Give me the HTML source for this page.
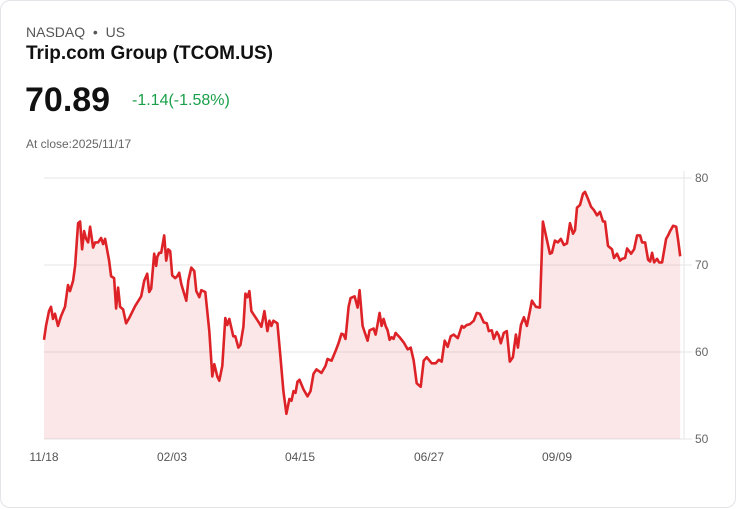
<!DOCTYPE html>
<html><head><meta charset="utf-8"><style>
body{margin:0;background:#fff;font-family:"Liberation Sans",sans-serif;}
.card{position:absolute;left:0;top:0;width:734px;height:506px;border:1px solid #e3e3e8;border-radius:10px;background:#fff;}
.t{position:absolute;white-space:nowrap;}
</style></head><body>
<div class="card">
<div class="t" style="left:25px;top:23px;font-size:14px;color:#555;">NASDAQ &nbsp;•&nbsp; US</div>
<div class="t" style="left:25px;top:42px;font-size:19px;font-weight:bold;color:#111;">Trip.com Group (TCOM.US)</div>
<div class="t" style="left:24px;top:80px;font-size:34px;font-weight:bold;color:#111;">70.89</div>
<div class="t" style="left:131px;top:91px;font-size:16px;color:#1a9f4a;font-weight:500;">-1.14(-1.58%)</div>
<div class="t" style="left:25px;top:136px;font-size:12px;color:#666;">At close:2025/11/17</div>
<svg id="chart" width="736" height="508" style="position:absolute;left:0;top:0"></svg>
</div>
<script>
const t=[0,2,5,7,9,11,14,17,21,24,26,29,31,34,36,38,40,42,44,46,49,51,54,57,59,61,65,67,70,72,74,76,79,82,85,91,97,100,103,105,107,110,112,113,115,117,120,122,124,126,128,131,133,135,137,142,144,147,150,152,155,157,161,165,168,170,173,175,178,181,183,185,189,191,194,196,199,201,203,205,207,211,215,217,220,223,225,227,229,233,236,239,242,245,247,249,251,253,255,259,263,266,269,272,277,281,283,287,291,294,297,299,301,304,306,310,313,315,318,320,323,325,329,331,333,335,337,339,341,343,345,347,349,351,355,359,363,366,369,372,376,379,382,387,391,394,397,400,403,406,409,413,417,419,422,425,429,432,435,439,442,444,447,449,452,454,456,459,462,465,468,471,473,476,479,482,485,487,491,495,498,501,505,507,510,513,516,519,522,525,528,530,532,535,538,540,543,546,549,552,555,558,560,563,565,567,569,572,575,577,580,582,586,589,592,595,597,600,603,605,607,609,612,614,617,621,623,625,628,631,633,635,637];
const values=[61.4,63,64.7,65.2,63.8,64.4,63,64.1,65.2,67.7,67,68.2,69.9,74.8,75,71.8,73.9,73,72.6,74.4,72,72.6,72.6,73.1,72.4,73,70.5,68.7,68.5,65,67.4,65.2,64.9,63.3,63.9,65.3,66.4,68.2,69,66.9,67.3,71.3,69.9,70.9,71.4,71.4,73.4,70.5,71.8,71.6,68.8,68.5,68.7,69.1,67.8,65.9,68.2,69.7,69.3,67,66.3,67.1,66.9,62.4,57.2,58.6,57.2,56.7,58.4,63.9,63.1,63.8,61.8,61.8,60.5,60.8,62.9,66.7,66.3,67,64.7,64,63.3,62.9,64.7,62.4,63.6,63,63.6,63.3,59.5,55.5,52.9,54.6,54.4,55.5,55.3,56.6,56.8,55.7,54.9,55.5,57.5,58,57.6,58.4,59.2,59,60.1,61,62.1,62,61.5,65.2,66.2,66.4,65.1,67.1,63,62.3,61.3,62.5,62.7,62,63.2,64.5,63,63.8,63,62.5,61.4,61.7,61.5,62.2,61.7,61.1,60.3,60.5,59,56.4,56,59,59.4,58.7,58.7,59.1,58.9,61.3,60.6,61.8,62,61.6,63,62.8,63.1,63.2,63.6,64.5,64.4,63.4,63.3,62.4,62.5,61.5,62.3,61.9,61,62.2,62.4,58.9,59.4,62,60.5,63.1,64,63,64.7,65.9,65.2,65.1,75,73.4,71.3,71.4,72.8,72.6,73,72.3,72.5,74.8,73.6,74,76.6,76.9,78.2,78.4,77.6,76.7,76.3,75.7,76.1,75,75,72.2,72,71.8,70.8,71.3,70.5,70.7,70.8,71.9,71.3,71.8,73.4,73.4,72.6,72.6,70.6,70.4,71.4,70.3,70.7,70.3,70.3,73,73.4,73.9,74.5,74.4,72.8,71];
const yTicks=[50,60,70,80];
const xTickLabels=["11/18","02/03","04/15","06/27","09/09"];
const xTickPos=[0,128,256,385,513];
</script>
<script>
const svg=document.getElementById('chart');const NS='http://www.w3.org/2000/svg';
const X0=43,X1=683,Y0=438,Y1=177;
const sx=v=>X0+v*(X1-X0)/640;
const sy=v=>Y0-(v-50)*(Y0-Y1)/30;
function mk(tag,attrs){const e=document.createElementNS(NS,tag);for(const k in attrs)e.setAttribute(k,attrs[k]);svg.appendChild(e);return e;}
yTicks.forEach(v=>{
 const g=mk('line',{x1:X0,x2:X1+8,y1:sy(v),y2:sy(v),stroke:'#e6e6e6','stroke-width':1});
 
 
 const tx=mk('text',{x:694,y:sy(v)+4,'font-size':12,fill:'#666','font-family':'Liberation Sans, sans-serif'});
 tx.textContent=v;
 
 
});
const ax=mk('line',{x1:X1,x2:X1,y1:170,y2:Y0,stroke:'#e6e6e6'});


xTickLabels.forEach((l,i)=>{
 const tx=mk('text',{x:sx(xTickPos[i]),y:460,'font-size':12,fill:'#555','text-anchor':'middle','font-family':'Liberation Sans, sans-serif'});
 tx.textContent=l;
 
 
});
const n=Math.min(t.length,values.length);
const scale=640/t[n-1]*0.994;
const px=i=>sx(t[i]*scale);
let d='';for(let i=0;i<n;i++){d+=(i?'L':'M')+px(i).toFixed(1)+','+sy(values[i]).toFixed(1);}
const area=mk('path',{d:d+'L'+px(n-1).toFixed(1)+','+Y0+'L'+px(0).toFixed(1)+','+Y0+'Z',fill:'rgba(220,40,40,0.11)'});


const line=mk('path',{d:d,fill:'none',stroke:'#dd2327','stroke-width':2.6,'stroke-linejoin':'round'});


</script>
</body></html>
